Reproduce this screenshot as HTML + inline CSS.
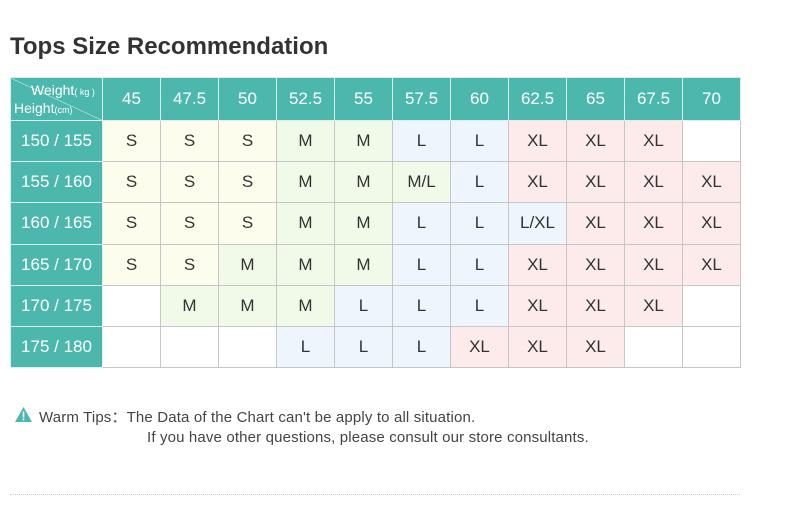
<!DOCTYPE html>
<html><head><meta charset="utf-8"><style>
body{margin:0;width:790px;height:532px;background:#fff;font-family:"Liberation Sans",Arial,sans-serif;position:relative;overflow:hidden}
h1{position:absolute;left:10px;top:33px;margin:0;font-size:24px;font-weight:bold;color:#333}
table{position:absolute;left:10px;top:77px;border-collapse:collapse;table-layout:fixed}
td{border:1px solid #c6c6c6;text-align:center;font-size:17px;color:#333;padding:0;width:57px;height:40.2px}
tr:first-child td{height:42px;background:#4cb8ad;color:#fff;font-size:17px;border-color:#d9efec}
td.h{width:91px;background:#4cb8ad;color:#fff;border-color:#d9efec;font-size:17px}
.S{background:#fdfdee}.M{background:#f1fae9}.L{background:#eef5fd}.X{background:#fdebec}
.tip{position:absolute;font-size:15px;letter-spacing:0.15px;color:#444;white-space:nowrap}
.dot{position:absolute;left:10px;top:494px;width:730px;border-top:1px dotted #ccc}
</style></head><body>
<h1>Tops Size Recommendation</h1>
<table>
<tr><td class="h" style="position:relative;background:#4cb8ad linear-gradient(to top right,transparent 49.3%,#d9efec 50%,transparent 50.7%);text-align:left"><div style="position:absolute;left:20px;top:4px;font-size:14px">Weight<span style="font-size:9px">( kg )</span></div><div style="position:absolute;left:3px;top:22px;font-size:14px">Height<span style="font-size:9px">(cm)</span></div></td><td>45</td><td>47.5</td><td>50</td><td>52.5</td><td>55</td><td>57.5</td><td>60</td><td>62.5</td><td>65</td><td>67.5</td><td>70</td></tr>
<tr><td class="h">150 / 155</td><td class="S">S</td><td class="S">S</td><td class="S">S</td><td class="M">M</td><td class="M">M</td><td class="L">L</td><td class="L">L</td><td class="X">XL</td><td class="X">XL</td><td class="X">XL</td><td></td></tr>
<tr><td class="h">155 / 160</td><td class="S">S</td><td class="S">S</td><td class="S">S</td><td class="M">M</td><td class="M">M</td><td class="M">M/L</td><td class="L">L</td><td class="X">XL</td><td class="X">XL</td><td class="X">XL</td><td class="X">XL</td></tr>
<tr><td class="h">160 / 165</td><td class="S">S</td><td class="S">S</td><td class="S">S</td><td class="M">M</td><td class="M">M</td><td class="L">L</td><td class="L">L</td><td class="L">L/XL</td><td class="X">XL</td><td class="X">XL</td><td class="X">XL</td></tr>
<tr><td class="h">165 / 170</td><td class="S">S</td><td class="S">S</td><td class="M">M</td><td class="M">M</td><td class="M">M</td><td class="L">L</td><td class="L">L</td><td class="X">XL</td><td class="X">XL</td><td class="X">XL</td><td class="X">XL</td></tr>
<tr><td class="h">170 / 175</td><td></td><td class="M">M</td><td class="M">M</td><td class="M">M</td><td class="L">L</td><td class="L">L</td><td class="L">L</td><td class="X">XL</td><td class="X">XL</td><td class="X">XL</td><td></td></tr>
<tr><td class="h">175 / 180</td><td></td><td></td><td></td><td class="L">L</td><td class="L">L</td><td class="L">L</td><td class="X">XL</td><td class="X">XL</td><td class="X">XL</td><td></td><td></td></tr>
</table>
<svg style="position:absolute;left:15px;top:407px" width="17" height="15"><polygon points="8.5,0 17,15 0,15" fill="#4cb8ad"/><rect x="7.7" y="4.5" width="1.6" height="6" fill="#fff"/><rect x="7.7" y="11.5" width="1.6" height="1.8" fill="#fff"/></svg>
<div class="tip" style="left:39px;top:406px">Warm Tips：The Data of the Chart can't be apply to all situation.</div>
<div class="tip" style="left:147px;top:429px">If you have other questions, please consult our store consultants.</div>
<div class="dot"></div>
</body></html>
